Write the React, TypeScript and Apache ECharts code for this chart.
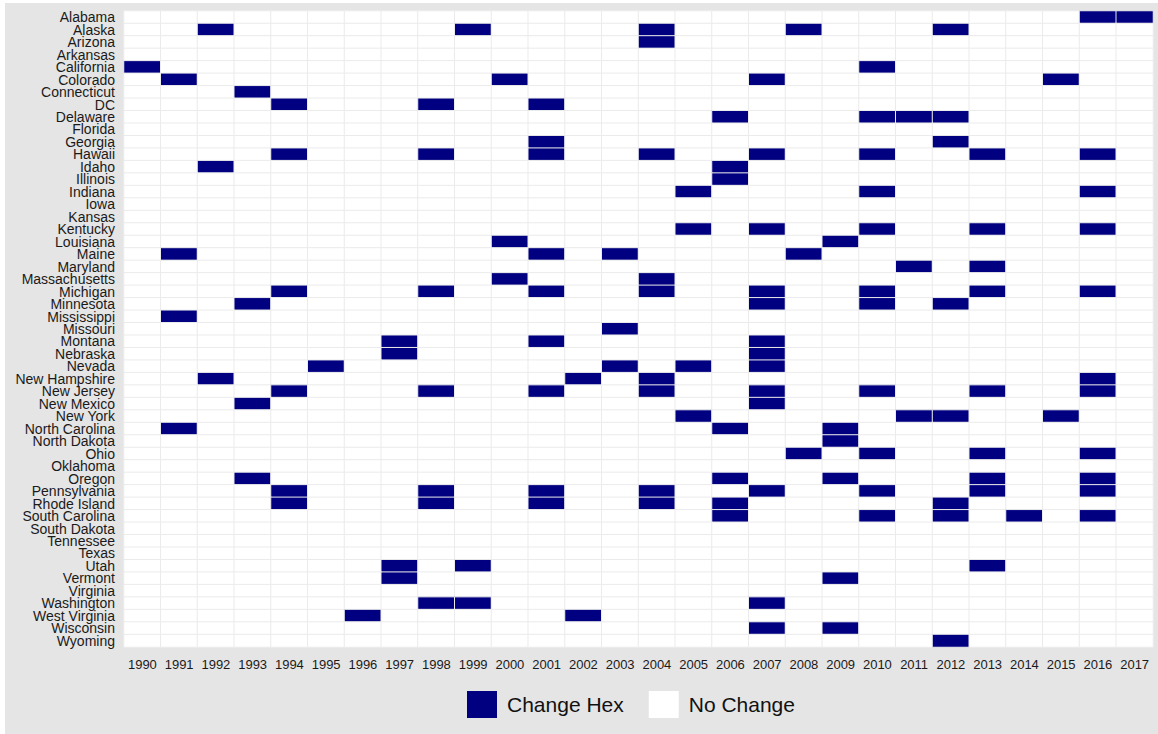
import React, { useEffect, useRef } from "react";
import * as echarts from "echarts";

const years: string[] = [
  "1990", "1991", "1992", "1993", "1994", "1995", "1996", "1997", "1998", "1999",
  "2000", "2001", "2002", "2003", "2004", "2005", "2006", "2007", "2008", "2009",
  "2010", "2011", "2012", "2013", "2014", "2015", "2016", "2017",
];

const states: string[] = [
  "Alabama", "Alaska", "Arizona", "Arkansas", "California", "Colorado", "Connecticut",
  "DC", "Delaware", "Florida", "Georgia", "Hawaii", "Idaho", "Illinois", "Indiana",
  "Iowa", "Kansas", "Kentucky", "Louisiana", "Maine", "Maryland", "Massachusetts",
  "Michigan", "Minnesota", "Mississippi", "Missouri", "Montana", "Nebraska", "Nevada",
  "New Hampshire", "New Jersey", "New Mexico", "New York", "North Carolina",
  "North Dakota", "Ohio", "Oklahoma", "Oregon", "Pennsylvania", "Rhode Island",
  "South Carolina", "South Dakota", "Tennessee", "Texas", "Utah", "Vermont",
  "Virginia", "Washington", "West Virginia", "Wisconsin", "Wyoming",
];

// Years with a "Change Hex" for each state (same order as states)
const changeYears: number[][] = [
  [2016, 2017], // Alabama
  [1992, 1999, 2004, 2008, 2012], // Alaska
  [2004], // Arizona
  [], // Arkansas
  [1990, 2010], // California
  [1991, 2000, 2007, 2015], // Colorado
  [1993], // Connecticut
  [1994, 1998, 2001], // DC
  [2006, 2010, 2011, 2012], // Delaware
  [], // Florida
  [2001, 2012], // Georgia
  [1994, 1998, 2001, 2004, 2007, 2010, 2013, 2016], // Hawaii
  [1992, 2006], // Idaho
  [2006], // Illinois
  [2005, 2010, 2016], // Indiana
  [], // Iowa
  [], // Kansas
  [2005, 2007, 2010, 2013, 2016], // Kentucky
  [2000, 2009], // Louisiana
  [1991, 2001, 2003, 2008], // Maine
  [2011, 2013], // Maryland
  [2000, 2004], // Massachusetts
  [1994, 1998, 2001, 2004, 2007, 2010, 2013, 2016], // Michigan
  [1993, 2007, 2010, 2012], // Minnesota
  [1991], // Mississippi
  [2003], // Missouri
  [1997, 2001, 2007], // Montana
  [1997, 2007], // Nebraska
  [1995, 2003, 2005, 2007], // Nevada
  [1992, 2002, 2004, 2016], // New Hampshire
  [1994, 1998, 2001, 2004, 2007, 2010, 2013, 2016], // New Jersey
  [1993, 2007], // New Mexico
  [2005, 2011, 2012, 2015], // New York
  [1991, 2006, 2009], // North Carolina
  [2009], // North Dakota
  [2008, 2010, 2013, 2016], // Ohio
  [], // Oklahoma
  [1993, 2006, 2009, 2013, 2016], // Oregon
  [1994, 1998, 2001, 2004, 2007, 2010, 2013, 2016], // Pennsylvania
  [1994, 1998, 2001, 2004, 2006, 2012], // Rhode Island
  [2006, 2010, 2012, 2014, 2016], // South Carolina
  [], // South Dakota
  [], // Tennessee
  [], // Texas
  [1997, 1999, 2013], // Utah
  [1997, 2009], // Vermont
  [], // Virginia
  [1998, 1999, 2007], // Washington
  [1996, 2002], // West Virginia
  [2007, 2009], // Wisconsin
  [2012], // Wyoming
];

const legendLabels: string[] = ["Change Hex", "No Change"];

export default function App() {
  const ref = useRef<HTMLDivElement>(null);

  useEffect(() => {
    document.body.style.margin = "0";
    if (!ref.current) return;
    const chart = echarts.init(ref.current, undefined, { renderer: "svg" });

    const data: [number, number, number][] = [];
    states.forEach((s, si) => {
      years.forEach((y, yi) => {
        const v = changeYears[si].includes(Number(y)) ? 1 : 0;
        data.push([yi, si, v]);
      });
    });

    const font = "'Liberation Sans', Arial, Helvetica, sans-serif";

    chart.setOption({
      animation: false,
      backgroundColor: "#e5e5e5",
      textStyle: { fontFamily: font },
      grid: { left: 119, right: 5, top: 8, bottom: 87, containLabel: false },
      xAxis: {
        type: "category",
        data: years,
        axisLine: { show: false },
        axisTick: { show: false },
        splitLine: { show: false },
        axisLabel: { fontSize: 13, color: "#1a1a1a", margin: 11, fontFamily: font, interval: 0 },
      },
      yAxis: {
        type: "category",
        data: states,
        inverse: true,
        axisLine: { show: false },
        axisTick: { show: false },
        splitLine: { show: false },
        axisLabel: {
          fontSize: 14,
          lineHeight: 12,
          color: "#1a1a1a",
          margin: 9,
          fontFamily: font,
          interval: 0,
        },
      },
      visualMap: {
        type: "piecewise",
        orient: "horizontal",
        inverse: true,
        left: 447,
        top: 673,
        itemWidth: 30,
        itemHeight: 27,
        itemGap: 25,
        textGap: 10,
        itemSymbol: "rect",
        selectedMode: false,
        align: "left",
        dimension: 2,
        textStyle: { fontSize: 21, color: "#111", fontFamily: font },
        pieces: [
          { value: 1, label: legendLabels[0], color: "#000080" },
          { value: 0, label: legendLabels[1], color: "#ffffff" },
        ],
      },
      series: [
        {
          type: "heatmap",
          data,
          itemStyle: { borderColor: "#ebebeb", borderWidth: 1 },
          emphasis: { disabled: true },
        },
      ],
    });

    return () => chart.dispose();
  }, []);

  return (
    <div
      ref={ref}
      style={{ position: "absolute", left: 5, top: 3, width: 1153, height: 731 }}
    />
  );
}
